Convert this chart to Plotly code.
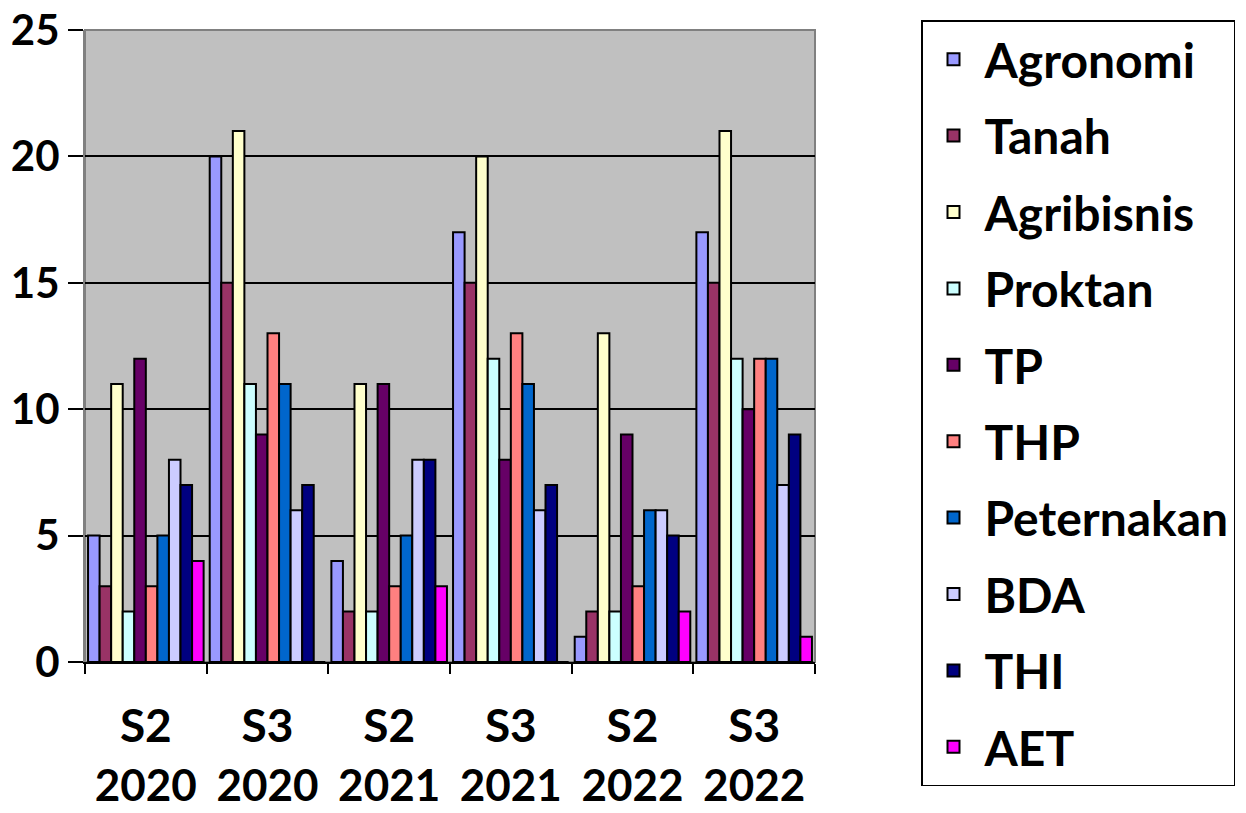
import plotly.graph_objects as go

semesters = ["S2", "S3", "S2", "S3", "S2", "S3"]
years = ["2020", "2020", "2021", "2021", "2022", "2022"]
categories = [f"{s} {y}" for s, y in zip(semesters, years)]
series_names = ["Agronomi", "Tanah", "Agribisnis", "Proktan", "TP", "THP", "Peternakan", "BDA", "THI", "AET"]
agronomi = [5, 20, 4, 17, 1, 17]
tanah = [3, 15, 2, 15, 2, 15]
agribisnis = [11, 21, 11, 20, 13, 21]
proktan = [2, 11, 2, 12, 2, 12]
tp = [12, 9, 11, 8, 9, 10]
thp = [3, 13, 3, 13, 3, 12]
peternakan = [5, 11, 5, 11, 6, 12]
bda = [8, 6, 8, 6, 6, 7]
thi = [7, 7, 8, 7, 5, 9]
aet = [4, 0, 3, 0, 2, 1]
y_ticks = [0, 5, 10, 15, 20, 25]

values = [agronomi, tanah, agribisnis, proktan, tp, thp, peternakan, bda, thi, aet]
colors = ["#9999FF", "#993366", "#FFFFCC", "#CCFFFF", "#660066",
          "#FF8080", "#0066CC", "#CCCCFF", "#000080", "#FF00FF"]

font_family = "Lato, 'Open Sans', sans-serif"

fig = go.Figure()
for name, vals, col in zip(series_names, values, colors):
    fig.add_trace(go.Bar(
        x=categories, y=vals, name=name, legendgroup=name,
        marker=dict(color=col, line=dict(color="black", width=2)),
    ))
# invisible helper trace so that the second (year) axis is drawn
fig.add_trace(go.Scatter(
    x=list(range(len(years))), y=[None] * len(years), xaxis="x2",
    mode="markers", showlegend=False, hoverinfo="skip",
))

W, H = 1246, 805
OFF = 8  # page body margin
L, R, T = 85 - OFF, W - 815 + OFF, 30 - OFF
B = H - (662 - OFF)
pw = W - L - R
ph = H - T - B

fig.update_layout(
    width=W, height=H,
    margin=dict(l=L, r=R, t=T, b=B, autoexpand=False),
    paper_bgcolor="white",
    plot_bgcolor="#C0C0C0",
    barmode="group",
    bargap=0.05,
    bargroupgap=0.0,
    font=dict(family=font_family, size=36, color="black"),
    showlegend=True,
    legend=dict(
        x=(921 - OFF - L) / pw, xanchor="left",
        y=(H - B - (20 - OFF)) / ph, yanchor="top",
        bordercolor="black", borderwidth=1.5,
        bgcolor="white",
        font=dict(family=font_family, size=48, color="black", weight="bold"),
        traceorder="grouped",
        tracegroupgap=11,
        itemwidth=52,
        maxheight=800,
    ),
    xaxis2=dict(
        overlaying="x", anchor="y", side="bottom",
        type="linear", range=[-0.5, 5.5], fixedrange=True,
        tickmode="array", tickvals=list(range(len(years))), ticktext=years,
        ticks="", showline=False, showgrid=False, zeroline=False,
        ticklabelstandoff=94, ticklabeloverflow="allow",
        tickfont=dict(family=font_family, size=44, color="black", weight="bold"),
    ),
)
fig.update_yaxes(
    range=[0, 25], tickvals=y_ticks,
    showgrid=True, gridcolor="black", gridwidth=1.5,
    ticks="outside", ticklen=15, tickcolor="black", tickwidth=1.5,
    showline=True, linecolor="#808080", linewidth=2,
    tickfont=dict(family=font_family, size=42, color="black", weight="bold"),
    zeroline=False, ticklabeloverflow="allow",
)
fig.layout.xaxis.update(
    type="category",
    ticks="outside", ticklen=10, tickcolor="black", tickwidth=1.5, tickson="boundaries",
    showline=True, linecolor="black", linewidth=1.5,
    tickmode="array", tickvals=categories, ticktext=semesters,
    tickfont=dict(family=font_family, size=46, color="black", weight="bold"),
    ticklabelstandoff=23, ticklabeloverflow="allow",
)
fig.add_shape(type="rect", xref="paper", yref="paper", x0=0, x1=1, y0=0, y1=1,
              line=dict(color="#808080", width=2), layer="below")

fig.write_html("out.html")
